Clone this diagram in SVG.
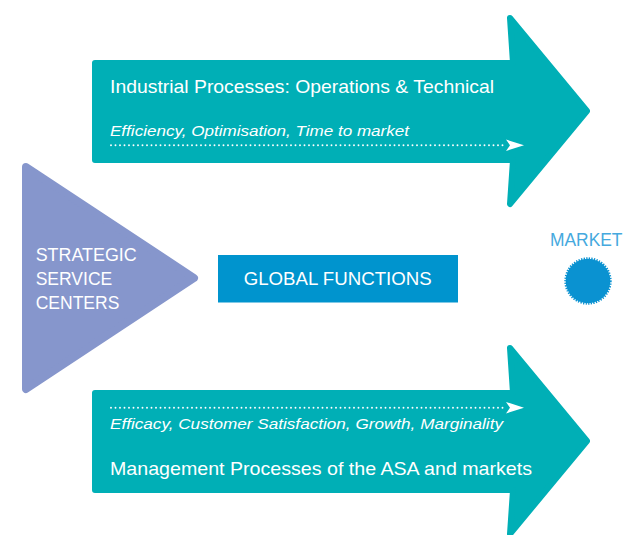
<svg xmlns="http://www.w3.org/2000/svg" width="626" height="535" viewBox="0 0 626 535">
<defs>
<style>
.arrow{fill:#00AFB6;stroke:#00AFB6;stroke-width:6;stroke-linejoin:round}
.tri{fill:#8696CC;stroke:#8696CC;stroke-width:8;stroke-linejoin:round}
.t{font-family:"Liberation Sans",Arial,sans-serif;fill:#FFFFFF}
.main{font-size:18.5px}
.it{font-size:15px;font-style:italic}
.cap{font-size:17.5px}
.dots{stroke:#FFFFFF;stroke-width:1.9;stroke-dasharray:0 4.5;stroke-linecap:round;fill:none}
.head{fill:#FFFFFF}
</style>
</defs>
<rect width="626" height="535" fill="#FFFFFF"/>
<g id="industrial-processes">
<polygon class="arrow" points="95,63 513,63 510,18 587,111 510,204 513,160 95,160"/>
<text class="t main" x="110" y="92.5" textLength="384" lengthAdjust="spacingAndGlyphs">Industrial Processes: Operations &amp; Technical</text>
<text class="t it" x="110" y="135.5" textLength="299" lengthAdjust="spacingAndGlyphs">Efficiency, Optimisation, Time to market</text>
</g>
<g id="management-processes">
<polygon class="arrow" points="95,393 513,393 510,348 587,441 510,534 513,490 95,490"/>
<text class="t it" x="110" y="428.5" textLength="393" lengthAdjust="spacingAndGlyphs">Efficacy, Customer Satisfaction, Growth, Marginality</text>
<text class="t main" x="110" y="475" textLength="422" lengthAdjust="spacingAndGlyphs">Management Processes of the ASA and markets</text>
</g>
<g id="strategic-service-centers">
<polygon class="tri" points="26,167 194,278 26,389"/>
<text class="t cap" x="35.7" y="261" textLength="101" lengthAdjust="spacingAndGlyphs">STRATEGIC</text>
<text class="t cap" x="35.7" y="285">SERVICE</text>
<text class="t cap" x="35.7" y="309">CENTERS</text>
</g>
<g id="global-functions">
<rect x="218" y="255" width="240" height="47.5" fill="#0094CE"/>
<text class="t cap" x="243.7" y="285" textLength="188" lengthAdjust="spacingAndGlyphs">GLOBAL FUNCTIONS</text>
</g>
<g id="market">
<text x="550" y="245.7" font-family="Liberation Sans, Arial, sans-serif" font-size="18" fill="#45A9DE" textLength="72.5" lengthAdjust="spacingAndGlyphs">MARKET</text>
<circle cx="588" cy="281" r="22.3" fill="#0A92D1"/>
<circle cx="588" cy="281" r="22.6" fill="none" stroke="#0A92D1" stroke-width="2.2" stroke-dasharray="1.3 1.3"/>
</g>
<g id="connectors">
<line class="dots" x1="111" y1="145.3" x2="503" y2="145.3"/>
<path class="head" d="M506,139.5 L524,145.3 L506,151 L510,145.3 Z"/>
<line class="dots" x1="111" y1="407.7" x2="503" y2="407.7"/>
<path class="head" d="M506,401.9 L524,407.7 L506,413.4 L510,407.7 Z"/>
</g>
</svg>
